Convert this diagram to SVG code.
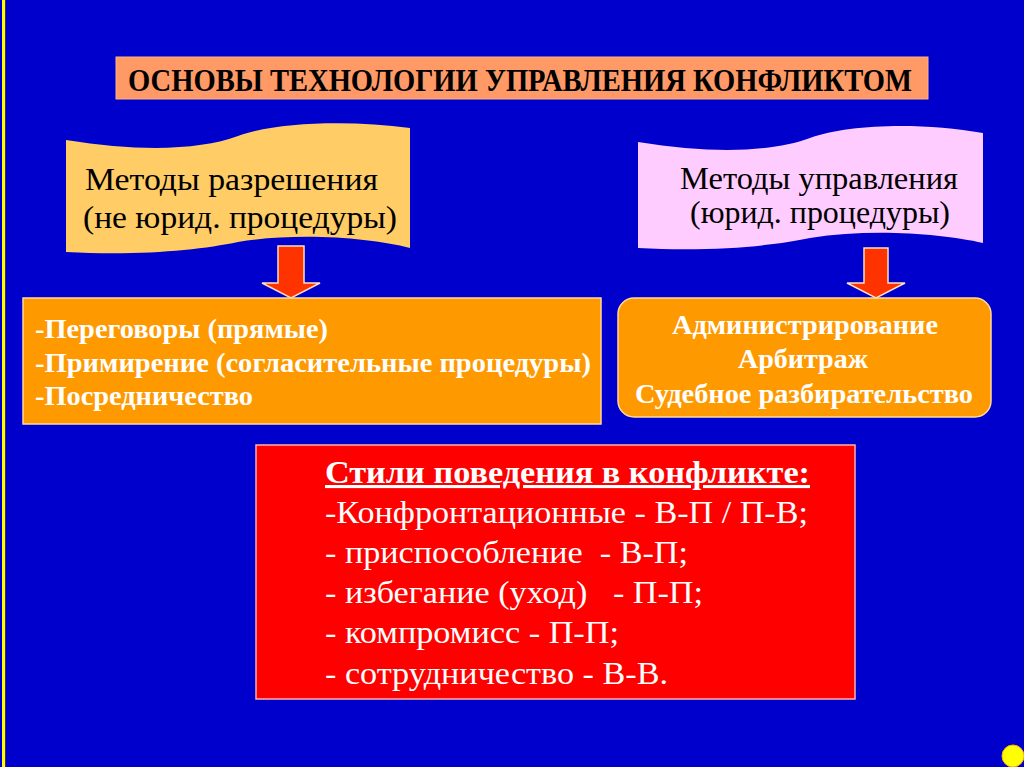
<svg xmlns="http://www.w3.org/2000/svg" width="1024" height="767" viewBox="0 0 1024 767">
<defs>
<style>
.serif{font-family:"Liberation Serif","Times New Roman",serif}
.b{font-weight:bold}
.blk{fill:#000}
.wht{fill:#fff}
.arrow{fill:#FF3300;stroke:#FFE0C0;stroke-width:1.5}
</style>
</defs>
<rect x="0" y="0" width="1024" height="767" fill="#0000CC"/>
<rect x="2" y="0" width="3" height="767" fill="#FFFF00"/>
<rect x="5" y="0" width="1" height="767" fill="#333366"/>

<g id="title">
<rect x="116" y="57" width="812" height="42" fill="#FF9966" stroke="#FFB08A" stroke-width="1"/>
<text x="128" y="91" class="serif b blk" font-size="31" textLength="784" lengthAdjust="spacingAndGlyphs">ОСНОВЫ ТЕХНОЛОГИИ УПРАВЛЕНИЯ КОНФЛИКТОМ</text>
</g>

<g id="banner-left">
<path d="M66,140 C140,152 200,150 238,136 C276,122 350,120 410,128 L410,248 C370,238 300,232 238,242 C200,250 140,256 66,252 Z" fill="#FFCC66"/>
<text x="85" y="190" class="serif blk" font-size="31" textLength="293" lengthAdjust="spacingAndGlyphs">Методы разрешения</text>
<text x="83" y="228" class="serif blk" font-size="31" textLength="314" lengthAdjust="spacingAndGlyphs">(не юрид. процедуры)</text>
</g>

<g id="banner-right">
<path d="M638,142 C712,154 772,152 810,138 C848,124 922,122 983,133 L983,243 C943,234 873,228 810,238 C772,246 712,252 638,248 Z" fill="#FFCCFF"/>
<text x="680" y="189" class="serif blk" font-size="31" textLength="278" lengthAdjust="spacingAndGlyphs">Методы управления</text>
<text x="690" y="223" class="serif blk" font-size="31" textLength="260" lengthAdjust="spacingAndGlyphs">(юрид. процедуры)</text>
</g>

<g id="box-left">
<rect x="23" y="298" width="578" height="126" fill="#FF9900" stroke="#FFD9A0" stroke-width="1.5"/>
<text x="35" y="338" class="serif b wht" font-size="27" textLength="293" lengthAdjust="spacingAndGlyphs">-Переговоры (прямые)</text>
<text x="35" y="372" class="serif b wht" font-size="27" textLength="556" lengthAdjust="spacingAndGlyphs">-Примирение (согласительные процедуры)</text>
<text x="35" y="405" class="serif b wht" font-size="27" textLength="218" lengthAdjust="spacingAndGlyphs">-Посредничество</text>
</g>

<g id="box-right">
<rect x="618" y="298" width="373" height="119" rx="16" ry="16" fill="#FF9900" stroke="#FFD9A0" stroke-width="1.5"/>
<text x="672" y="334" class="serif b wht" font-size="27" textLength="266" lengthAdjust="spacingAndGlyphs">Администрирование</text>
<text x="738" y="368" class="serif b wht" font-size="27" textLength="130" lengthAdjust="spacingAndGlyphs">Арбитраж</text>
<text x="635" y="403" class="serif b wht" font-size="27" textLength="338" lengthAdjust="spacingAndGlyphs">Судебное разбирательство</text>
</g>

<g id="box-styles">
<rect x="256" y="445" width="599" height="254" fill="#FF0000" stroke="#FFB0B0" stroke-width="1.5"/>
<text x="325" y="483" class="serif b wht" font-size="31" textLength="485" lengthAdjust="spacingAndGlyphs" text-decoration="underline">Стили поведения в конфликте:</text>
<text x="325" y="523" class="serif wht" font-size="31" textLength="483" lengthAdjust="spacingAndGlyphs">-Конфронтационные - В-П / П-В;</text>
<text x="325" y="563" class="serif wht" font-size="31" textLength="363" lengthAdjust="spacingAndGlyphs" xml:space="preserve">- приспособление  - В-П;</text>
<text x="325" y="603" class="serif wht" font-size="31" textLength="378" lengthAdjust="spacingAndGlyphs" xml:space="preserve">- избегание (уход)   - П-П;</text>
<text x="325" y="643" class="serif wht" font-size="31" textLength="294" lengthAdjust="spacingAndGlyphs">- компромисс - П-П;</text>
<text x="325" y="684" class="serif wht" font-size="31" textLength="343" lengthAdjust="spacingAndGlyphs">- сотрудничество - В-В.</text>
</g>

<g id="connectors">
<path class="arrow" d="M278,246 L304,246 L304,283 L320,283 L291,298 L262,283 L278,283 Z"/>
<path class="arrow" d="M864,248 L888,248 L888,283 L905,283 L876,298 L847,283 L864,283 Z"/>
</g>

<g id="page-marker">
<circle cx="1013" cy="756" r="11" fill="#FFFF00" stroke="#FFB000" stroke-width="1"/>
</g>
</svg>
